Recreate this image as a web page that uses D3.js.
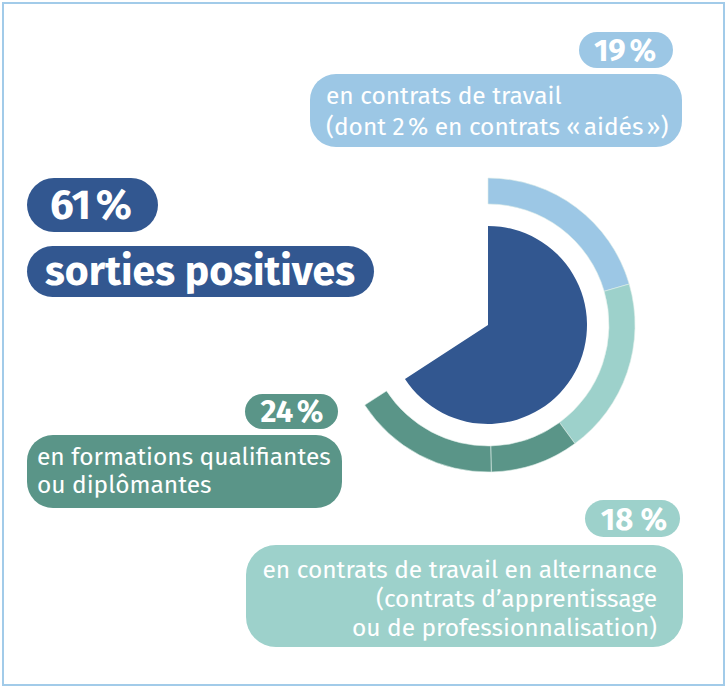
<!DOCTYPE html>
<html>
<head>
<meta charset="utf-8">
<script src="https://cdn.jsdelivr.net/npm/d3@7"></script>
<style>
  body { margin: 0; background: #fff; }
  svg text { font-family: 'Fira Sans', 'Open Sans', sans-serif; fill: #fff; }
</style>
</head>
<body>
<svg id="chart"></svg>
<script>
let totalValue = 61;
let segmentNames = ['travail', 'alternance', 'formations_a', 'formations_b'];
let segmentValues = [19, 18, 9, 15];
let segmentColors = ['#9cc7e5', '#9dd1cb', '#5a9588', '#5a9588'];

let labelPercents = ['19\u202F%', '18 %', '24\u202F%'];
let labelLines = [
  ['en contrats de travail', '(dont 2\u202F% en contrats \u00AB\u202Faidés\u202F\u00BB)'],
  ['en contrats de travail en alternance', '(contrats d\u2019apprentissage', 'ou de professionnalisation)'],
  ['en formations qualifiantes', 'ou diplômantes']
];
let mainPercent = '61\u202F%';
let mainLabel = 'sorties positives';

function drawChart(width, height) {
  let svg = d3.select('#chart').attr('width', width).attr('height', height);

  svg.append('rect')
    .attr('x', 3).attr('y', 3)
    .attr('width', width - 7).attr('height', height - 6)
    .attr('fill', 'none')
    .attr('stroke', '#a2cbe9')
    .attr('stroke-width', 2);

  let cx = 488, cy = 325;
  let angle = d3.scaleLinear().domain([0, totalValue]).range([0, 237 * Math.PI / 180]);

  let g = svg.append('g').attr('transform', 'translate(' + cx + ',' + cy + ')');

  // inner pie: total of positive outcomes
  g.append('path')
    .attr('d', d3.arc().innerRadius(0).outerRadius(99)({ startAngle: 0, endAngle: angle(totalValue) }))
    .attr('fill', '#325790');

  // outer ring: detail
  let pie = d3.pie().sort(null).value(d => d)
    .startAngle(0).endAngle(angle(d3.sum(segmentValues)));
  let ringArc = d3.arc().innerRadius(121).outerRadius(147);

  g.selectAll('.segment')
    .data(pie(segmentValues))
    .enter()
    .append('path')
    .classed('segment', true)
    .attr('d', ringArc)
    .attr('fill', (d, i) => segmentColors[i])
    .attr('stroke', '#dfeeea')
    .attr('stroke-width', 0.6)
    .attr('segment', (d, i) => segmentNames[i]);

  function pill(x, y, w, h, r, color) {
    svg.append('rect')
      .attr('x', x).attr('y', y)
      .attr('width', w).attr('height', h)
      .attr('rx', r).attr('ry', r)
      .attr('fill', color);
  }
  function lines(texts, x, y0, step, size, anchor) {
    texts.forEach((t, i) => {
      svg.append('text')
        .attr('x', x).attr('y', y0 + i * step)
        .attr('text-anchor', anchor)
        .style('font-size', size + 'px')
        .text(t);
    });
  }
  function bold(t, x, y, size) {
    svg.append('text').attr('x', x).attr('y', y).attr('text-anchor', 'middle')
      .style('font-size', size + 'px').style('font-weight', 700).text(t);
  }

  // 61 % sorties positives
  pill(27, 178, 131, 54, 27, '#325790');
  bold(mainPercent, 91, 219, 42);
  pill(27, 246, 347, 51, 25.5, '#325790');
  bold(mainLabel, 200, 285, 41);

  // 19 %
  pill(579, 32, 94, 36, 18, segmentColors[0]);
  bold(labelPercents[0], 625, 61, 31);
  pill(310, 74, 372, 73, 26, segmentColors[0]);
  lines(labelLines[0], 326, 104, 31, 24.5, 'start');

  // 18 %
  pill(585, 500, 95, 37, 18.5, segmentColors[1]);
  bold(labelPercents[1], 634, 530, 31);
  pill(246, 545, 437, 102, 30, segmentColors[1]);
  lines(labelLines[1], 657, 578, 29, 24.5, 'end');

  // 24 %
  pill(245, 394, 93, 35, 17.5, segmentColors[2]);
  bold(labelPercents[2], 292, 422, 31);
  pill(27, 435, 315, 73, 26, segmentColors[2]);
  lines(labelLines[2], 37, 465, 28, 24.5, 'start');
}

drawChart(728, 688);
</script>
</body>
</html>
